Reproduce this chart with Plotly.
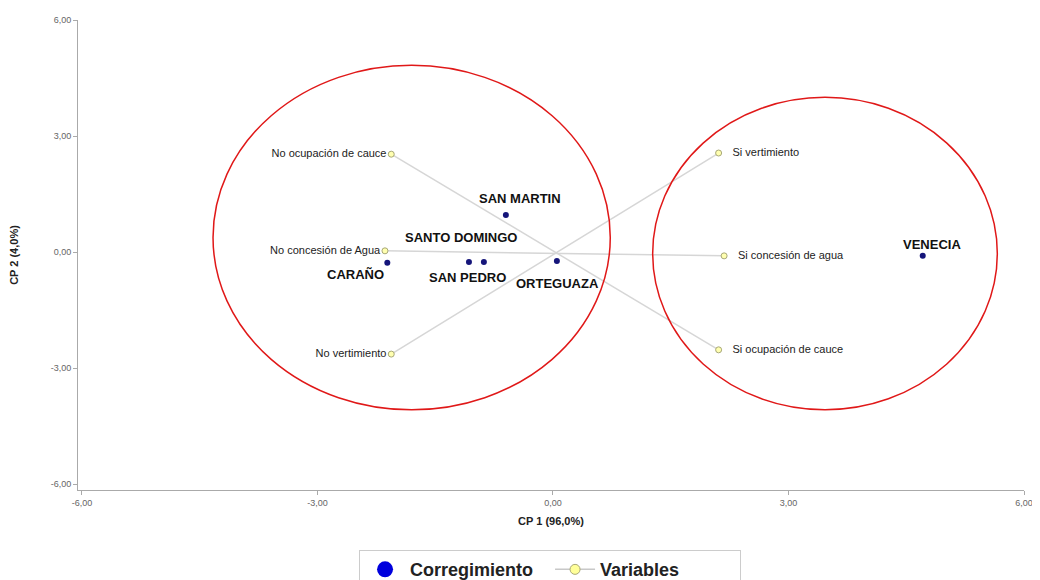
import plotly.graph_objects as go

# ---- data ----
corr_names = ["SAN MARTIN", "SANTO DOMINGO", "SAN PEDRO", "CARAÑO", "ORTEGUAZA", "VENECIA"]
corr_x = [-0.60, -0.88, -1.07, -2.11, 0.05, 4.71]
corr_y = [0.96, -0.26, -0.26, -0.28, -0.23, -0.10]

var_names = ["No ocupación de cauce", "Si ocupación de cauce",
             "No concesión de Agua", "Si concesión de agua",
             "No vertimiento", "Si vertimiento"]
var_x = [-2.06, 2.11, -2.14, 2.18, -2.06, 2.11]
var_y = [2.53, -2.53, 0.03, -0.10, -2.64, 2.56]

tick_vals = [-6, -3, 0, 3, 6]
tick_text = ["-6,00", "-3,00", "0,00", "3,00", "6,00"]

# group ellipses (x0, x1, y0, y1)
groups_x0 = [-4.33, 1.27]
groups_x1 = [0.73, 5.66]
groups_y0 = [-4.08, -4.08]
groups_y1 = [4.83, 4.00]

# ---- styling ----
FONT = "Liberation Sans, Arial, sans-serif"
label_offsets = {  # pixel offsets of corregimiento labels (dx, dy up)
    "SAN MARTIN": (14, 16),
    "SANTO DOMINGO": (-23, 25),
    "SAN PEDRO": (-1, -15),
    "CARAÑO": (-32, -12),
    "ORTEGUAZA": (1, -23),
    "VENECIA": (9, 11),
}

fig = go.Figure()

# variable lines connecting pairs
lx, ly = [], []
for i in range(0, len(var_x), 2):
    lx += [var_x[i], var_x[i + 1], None]
    ly += [var_y[i], var_y[i + 1], None]
fig.add_trace(go.Scatter(x=lx, y=ly, mode="lines",
                         line=dict(color="#d6d6d6", width=1.5),
                         showlegend=False, hoverinfo="skip"))

# variable markers with labels
var_text = [n if x < 0 else "   " + n for n, x in zip(var_names, var_x)]
var_pos = ["middle left" if x < 0 else "middle right" for x in var_x]
fig.add_trace(go.Scatter(x=var_x, y=var_y, mode="markers+text", text=var_text,
                         textposition=var_pos,
                         textfont=dict(family=FONT, size=11, color="#222222"),
                         marker=dict(size=6, color="#ffffb0",
                                     line=dict(color="#a8a878", width=1)),
                         showlegend=False))

# corregimiento markers
fig.add_trace(go.Scatter(x=corr_x, y=corr_y, mode="markers",
                         marker=dict(size=6, color="#15157a"),
                         showlegend=False))

# legend-only entries
fig.add_trace(go.Scatter(x=[None], y=[None], mode="markers", name="Corregimiento",
                         marker=dict(size=22, color="#0000dd")))
fig.add_trace(go.Scatter(x=[None], y=[None], mode="lines+markers", name="Variables",
                         line=dict(color="#c8c8c8", width=1.5),
                         marker=dict(size=10, color="#ffff99",
                                     line=dict(color="#a8a878", width=1))))

for n, x, y in zip(corr_names, corr_x, corr_y):
    dx, dy = label_offsets[n]
    fig.add_annotation(x=x, y=y, text="<b>" + n + "</b>", showarrow=False,
                       xshift=dx, yshift=dy,
                       font=dict(family=FONT, size=13, color="#111111"))

for x0, x1, y0, y1 in zip(groups_x0, groups_x1, groups_y0, groups_y1):
    fig.add_shape(type="circle", x0=x0, x1=x1, y0=y0, y1=y1,
                  line=dict(color="#e01818", width=1.5), layer="above")

axis_common = dict(showgrid=False, zeroline=False, showline=True,
                   linecolor="#aaaaaa", linewidth=1, ticks="outside",
                   ticklen=4, tickcolor="#aaaaaa", automargin=False,
                   tickfont=dict(family=FONT, size=9, color="#666666"),
                   tickvals=tick_vals, ticktext=tick_text)

fig.update_xaxes(range=[-6.05, 6.0], **axis_common,
                 title=dict(text="<b>CP 1 (96,0%)</b>", standoff=10,
                            font=dict(family=FONT, size=11, color="#222222")))
fig.update_yaxes(range=[-6.155, 6.0], **axis_common,
                 title=dict(text="<b>CP 2 (4,0%)</b>", standoff=30,
                            font=dict(family=FONT, size=11, color="#222222")))

fig.update_layout(
    width=1032, height=572,
    margin=dict(l=70, r=16, t=12, b=90, autoexpand=False),
    plot_bgcolor="white", paper_bgcolor="white",
    legend=dict(orientation="h", x=0.499, xanchor="center", y=-0.128, yanchor="top",
                bordercolor="#cccccc", borderwidth=1,
                font=dict(family=FONT, size=18, color="#222222", weight="bold"),
                itemwidth=40, entrywidth=135, entrywidthmode="pixels"),
    font=dict(family=FONT),
)

fig.write_html("out.html")
